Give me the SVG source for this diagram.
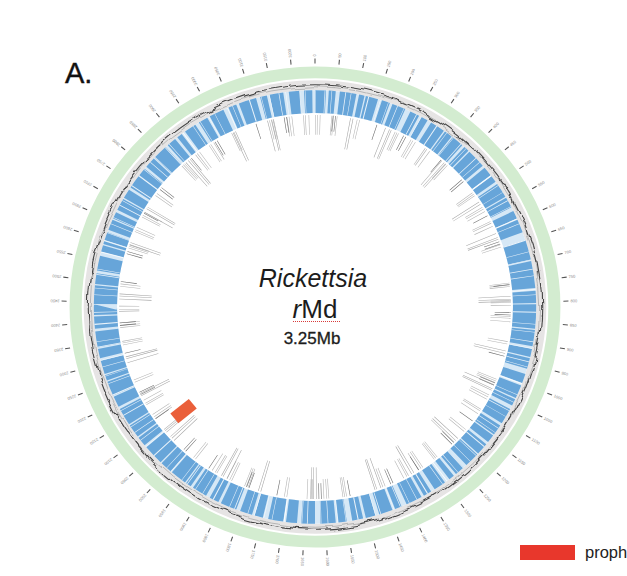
<svg xmlns="http://www.w3.org/2000/svg" width="627" height="576" viewBox="0 0 627 576">
<defs>
<style>
.lb{font-family:"Liberation Sans",Arial,sans-serif;font-size:4px;fill:#8a8a8a}
.t{font-family:"Liberation Sans",Arial,sans-serif;fill:#1c1c1c;text-anchor:middle}
.ring{fill:none}
</style>
<filter id="wob" x="-10%" y="-10%" width="120%" height="120%">
<feTurbulence type="fractalNoise" baseFrequency="0.045" numOctaves="3" seed="3"/>
<feDisplacementMap in="SourceGraphic" scale="9" xChannelSelector="R" yChannelSelector="G"/>
</filter>
<filter id="wob2" x="-10%" y="-10%" width="120%" height="120%">
<feTurbulence type="fractalNoise" baseFrequency="0.04" numOctaves="2" seed="11"/>
<feDisplacementMap in="SourceGraphic" scale="7" xChannelSelector="R" yChannelSelector="G"/>
</filter>
</defs>
<rect width="627" height="576" fill="#ffffff"/>
<text id="panel" x="65" y="83" font-family="Liberation Sans, Arial, sans-serif" font-size="29" fill="#111" stroke="#111" stroke-width="0.4">A.</text>
<g id="map" transform="translate(315 307) scale(1.01 0.99)">
  <circle class="ring" r="237" stroke="#d3ecd0" stroke-width="12"/>
  <circle class="ring" r="224" stroke="#e6e4e4" stroke-width="10"/>
  <circle class="ring" r="222.5" stroke="#b0b0b0" stroke-width="0.9" filter="url(#wob2)"/>
  <circle class="ring" r="224.5" stroke="#444" stroke-width="1.1" filter="url(#wob)"/>
  <g id="cds" transform="rotate(-90)">
    <circle class="ring" r="207.5" stroke="#d6e8f6" stroke-width="23"/>
    <circle class="ring" r="207.5" stroke="#67a5d9" stroke-width="23" pathLength="1000" stroke-dasharray="8 2 5 3 12 2 4 1 9 3 6 2 10 4 7 2 5 3 11 1 6 1 9 2 4 1 14 2 7 1 5 2 11 1 8 3 6 1 10 6 15 1 20 2 9 1 18 1 12 2 6 1 8 4 7 2 10 1 5 3 12 2 8 1 6 2 9 1 11 3 7 2 4 4 9 3 6 2 12 4 5 2 10 3 7 2 8 4 6 2 11 4 10 3 8 2 11 4 6 2 9 3 12 2 7 3 11 2 4 1 12 1 9 1 15 2 7 1 10 1 13 2 8 1 11 1 4 1 10 2 7 1 12 2 9 1 6 2 14 1 8 2 11 3 5 1 2 1 6 2 8 1 5 2 9 1 7 2 10 1 6 2 8 1 11 2 7 2 4 3 9 3 7 2 11 4 6 2 13 3 5 2 10 4 8 3 6 2"/>
    <circle class="ring" r="207.5" stroke="#ffffff" stroke-width="23" pathLength="1000" stroke-dasharray="0.4 6.6 0.5 4.5 0.4 9.6 0.6 3.4 0.4 12.3 0.8 8.2 0.4 5.6" stroke-opacity="0.85"/>
  </g>
  <g id="inner" transform="rotate(-90)">
    <circle class="ring" r="184" stroke="#b4b4b4" stroke-width="20" pathLength="1000" stroke-dasharray="0.5 1.2 0.5 1.8 0.5 9 0.5 1 0.5 2.4 0.5 16 0.5 1.5 0.5 30 0.5 1.1 0.5 0.9 0.5 11"/>
    <circle class="ring" r="178" stroke="#a6a6a6" stroke-width="32" pathLength="1000" stroke-dasharray="0.5 2 0.5 1.3 0.5 41 0.5 1.6 0.5 27 0.5 3 0.5 1 0.5 48" stroke-dashoffset="17"/>
    <circle class="ring" r="186" stroke="#6e6e6e" stroke-width="16" pathLength="1000" stroke-dasharray="0.5 23 0.5 1.5 0.5 34" stroke-dashoffset="9"/>
  </g>
  <g id="ticks">
    <circle class="ring" r="248.5" stroke="#555" stroke-width="5" pathLength="65" stroke-dasharray="0.045 0.955" stroke-dashoffset="0.0225" transform="rotate(-90)"/>
    <text class="lb" transform="rotate(0) translate(0 -253) rotate(-90)" y="1.4">0</text>
    <text class="lb" transform="rotate(5.538) translate(0 -253) rotate(-90)" y="1.4">50</text>
    <text class="lb" transform="rotate(11.077) translate(0 -253) rotate(-90)" y="1.4">100</text>
    <text class="lb" transform="rotate(16.615) translate(0 -253) rotate(-90)" y="1.4">150</text>
    <text class="lb" transform="rotate(22.154) translate(0 -253) rotate(-90)" y="1.4">200</text>
    <text class="lb" transform="rotate(27.692) translate(0 -253) rotate(-90)" y="1.4">250</text>
    <text class="lb" transform="rotate(33.231) translate(0 -253) rotate(-90)" y="1.4">300</text>
    <text class="lb" transform="rotate(38.769) translate(0 -253) rotate(-90)" y="1.4">350</text>
    <text class="lb" transform="rotate(44.308) translate(0 -253) rotate(-90)" y="1.4">400</text>
    <text class="lb" transform="rotate(49.846) translate(0 -253) rotate(-90)" y="1.4">450</text>
    <text class="lb" transform="rotate(55.385) translate(0 -253) rotate(-90)" y="1.4">500</text>
    <text class="lb" transform="rotate(60.923) translate(0 -253) rotate(-90)" y="1.4">550</text>
    <text class="lb" transform="rotate(66.462) translate(0 -253) rotate(-90)" y="1.4">600</text>
    <text class="lb" transform="rotate(72) translate(0 -253) rotate(-90)" y="1.4">650</text>
    <text class="lb" transform="rotate(77.538) translate(0 -253) rotate(-90)" y="1.4">700</text>
    <text class="lb" transform="rotate(83.077) translate(0 -253) rotate(-90)" y="1.4">750</text>
    <text class="lb" transform="rotate(88.615) translate(0 -253) rotate(-90)" y="1.4">800</text>
    <text class="lb" transform="rotate(94.154) translate(0 -253) rotate(-90)" y="1.4">850</text>
    <text class="lb" transform="rotate(99.692) translate(0 -253) rotate(-90)" y="1.4">900</text>
    <text class="lb" transform="rotate(105.231) translate(0 -253) rotate(-90)" y="1.4">950</text>
    <text class="lb" transform="rotate(110.769) translate(0 -253) rotate(-90)" y="1.4">1000</text>
    <text class="lb" transform="rotate(116.308) translate(0 -253) rotate(-90)" y="1.4">1050</text>
    <text class="lb" transform="rotate(121.846) translate(0 -253) rotate(-90)" y="1.4">1100</text>
    <text class="lb" transform="rotate(127.385) translate(0 -253) rotate(-90)" y="1.4">1150</text>
    <text class="lb" transform="rotate(132.923) translate(0 -253) rotate(-90)" y="1.4">1200</text>
    <text class="lb" transform="rotate(138.462) translate(0 -253) rotate(-90)" y="1.4">1250</text>
    <text class="lb" transform="rotate(144) translate(0 -253) rotate(-90)" y="1.4">1300</text>
    <text class="lb" transform="rotate(149.538) translate(0 -253) rotate(-90)" y="1.4">1350</text>
    <text class="lb" transform="rotate(155.077) translate(0 -253) rotate(-90)" y="1.4">1400</text>
    <text class="lb" transform="rotate(160.615) translate(0 -253) rotate(-90)" y="1.4">1450</text>
    <text class="lb" transform="rotate(166.154) translate(0 -253) rotate(-90)" y="1.4">1500</text>
    <text class="lb" transform="rotate(171.692) translate(0 -253) rotate(-90)" y="1.4">1550</text>
    <text class="lb" transform="rotate(177.231) translate(0 -253) rotate(-90)" y="1.4">1600</text>
    <text class="lb" transform="rotate(182.769) translate(0 -253) rotate(-90)" y="1.4">1650</text>
    <text class="lb" transform="rotate(188.308) translate(0 -253) rotate(-90)" y="1.4">1700</text>
    <text class="lb" transform="rotate(193.846) translate(0 -253) rotate(-90)" y="1.4">1750</text>
    <text class="lb" transform="rotate(199.385) translate(0 -253) rotate(-90)" y="1.4">1800</text>
    <text class="lb" transform="rotate(204.923) translate(0 -253) rotate(-90)" y="1.4">1850</text>
    <text class="lb" transform="rotate(210.462) translate(0 -253) rotate(-90)" y="1.4">1900</text>
    <text class="lb" transform="rotate(216) translate(0 -253) rotate(-90)" y="1.4">1950</text>
    <text class="lb" transform="rotate(221.538) translate(0 -253) rotate(-90)" y="1.4">2000</text>
    <text class="lb" transform="rotate(227.077) translate(0 -253) rotate(-90)" y="1.4">2050</text>
    <text class="lb" transform="rotate(232.615) translate(0 -253) rotate(-90)" y="1.4">2100</text>
    <text class="lb" transform="rotate(238.154) translate(0 -253) rotate(-90)" y="1.4">2150</text>
    <text class="lb" transform="rotate(243.692) translate(0 -253) rotate(-90)" y="1.4">2200</text>
    <text class="lb" transform="rotate(249.231) translate(0 -253) rotate(-90)" y="1.4">2250</text>
    <text class="lb" transform="rotate(254.769) translate(0 -253) rotate(-90)" y="1.4">2300</text>
    <text class="lb" transform="rotate(260.308) translate(0 -253) rotate(-90)" y="1.4">2350</text>
    <text class="lb" transform="rotate(265.846) translate(0 -253) rotate(-90)" y="1.4">2400</text>
    <text class="lb" transform="rotate(271.385) translate(0 -253) rotate(-90)" y="1.4">2450</text>
    <text class="lb" transform="rotate(276.923) translate(0 -253) rotate(-90)" y="1.4">2500</text>
    <text class="lb" transform="rotate(282.462) translate(0 -253) rotate(-90)" y="1.4">2550</text>
    <text class="lb" transform="rotate(288) translate(0 -253) rotate(-90)" y="1.4">2600</text>
    <text class="lb" transform="rotate(293.538) translate(0 -253) rotate(-90)" y="1.4">2650</text>
    <text class="lb" transform="rotate(299.077) translate(0 -253) rotate(-90)" y="1.4">2700</text>
    <text class="lb" transform="rotate(304.615) translate(0 -253) rotate(-90)" y="1.4">2750</text>
    <text class="lb" transform="rotate(310.154) translate(0 -253) rotate(-90)" y="1.4">2800</text>
    <text class="lb" transform="rotate(315.692) translate(0 -253) rotate(-90)" y="1.4">2850</text>
    <text class="lb" transform="rotate(321.231) translate(0 -253) rotate(-90)" y="1.4">2900</text>
    <text class="lb" transform="rotate(326.769) translate(0 -253) rotate(-90)" y="1.4">2950</text>
    <text class="lb" transform="rotate(332.308) translate(0 -253) rotate(-90)" y="1.4">3000</text>
    <text class="lb" transform="rotate(337.846) translate(0 -253) rotate(-90)" y="1.4">3050</text>
    <text class="lb" transform="rotate(343.385) translate(0 -253) rotate(-90)" y="1.4">3100</text>
    <text class="lb" transform="rotate(348.923) translate(0 -253) rotate(-90)" y="1.4">3150</text>
    <text class="lb" transform="rotate(354.462) translate(0 -253) rotate(-90)" y="1.4">3200</text>
  </g>
  <rect id="prophage" x="-6" y="-179" width="12.5" height="23.5" fill="#ea5f3a" transform="rotate(231)"/>
</g>
<g id="title">
  <text class="t" x="313" y="287" font-size="25" font-style="italic">Rickettsia</text>
  <text class="t" x="315" y="318" font-size="26"><tspan font-style="italic">r</tspan>Md</text>
  <path d="M293 321.5 H340" stroke="#d83a3a" stroke-width="1.1" stroke-dasharray="1 1" fill="none"/>
  <text class="t" x="312" y="344" font-size="17" stroke="#1c1c1c" stroke-width="0.3">3.25Mb</text>
</g>
<g id="legend">
  <rect x="520" y="545" width="55" height="15" fill="#e8372c"/>
  <text x="585" y="558" font-family="Liberation Sans, Arial, sans-serif" font-size="16.5" fill="#222">proph</text>
</g>
</svg>
